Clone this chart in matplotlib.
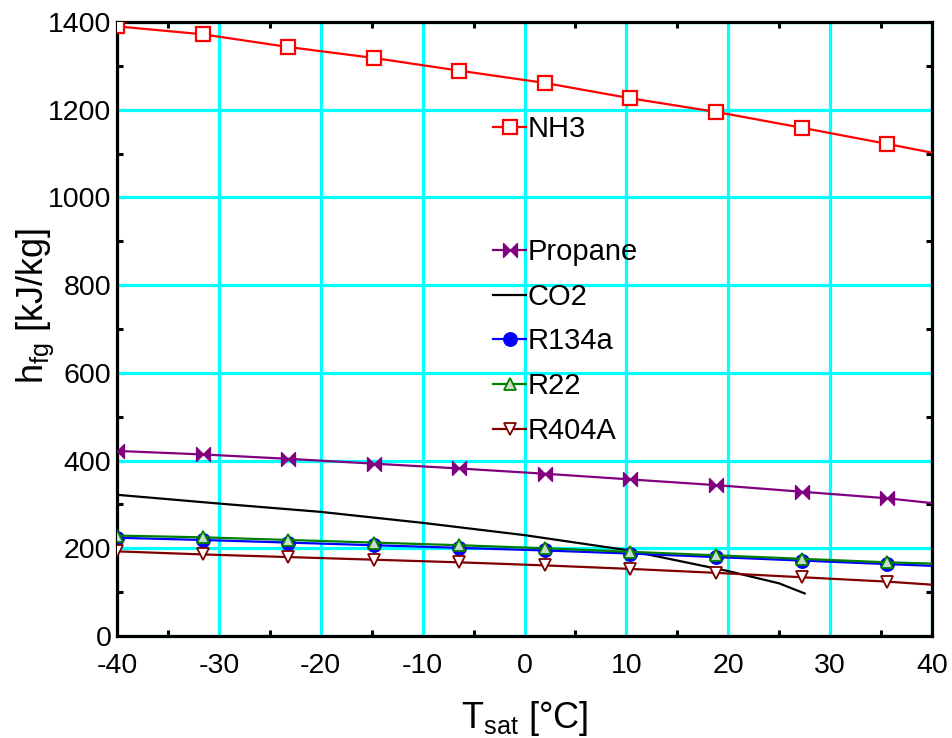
import matplotlib
matplotlib.use("Agg")
import matplotlib.pyplot as plt
from matplotlib.path import Path

plt.rcParams['font.family'] = ['Liberation Sans', 'DejaVu Sans']
plt.rcParams['mathtext.default'] = 'regular'
plt.rcParams['axes.unicode_minus'] = False

# ---- data ----
T_mark = [-40, -31.6, -23.2, -14.8, -6.4, 2.0, 10.4, 18.8, 27.2, 35.6, 40]
nh3 = [1390, 1372, 1343, 1318, 1289, 1261, 1226, 1195, 1159, 1122, 1102]
propane = [422, 414, 404, 393, 382, 370, 357, 344, 329, 314, 303]
r134a = [224, 219, 213, 207, 201, 195, 188, 180, 172, 164, 160]
r22 = [229, 225, 219, 213, 207, 200, 192, 184, 176, 168, 165]
r404a = [193, 186, 180, 174, 168, 161, 153, 144, 134, 124, 117]
co2_T = [-40, -30, -20, -10, 0, 10, 20, 25, 27.5]
co2 = [322, 302, 283, 258, 230, 196, 148, 120, 97]

x_ticks = [-40, -30, -20, -10, 0, 10, 20, 30, 40]
y_ticks = [0, 200, 400, 600, 800, 1000, 1200, 1400]

bowtie = Path([(-1, -1), (0, 0), (-1, 1), (-1, -1), (1, 1), (0, 0), (1, -1), (1, 1)],
              [Path.MOVETO, Path.LINETO, Path.LINETO, Path.CLOSEPOLY,
               Path.MOVETO, Path.LINETO, Path.LINETO, Path.CLOSEPOLY])

fig = plt.figure(figsize=(9.53, 7.38), dpi=100)
ax = fig.add_axes([0.1228, 0.1382, 0.8552, 0.832])

mev = slice(0, 10)
l_nh3, = ax.plot(T_mark, nh3, color='#ff0000', lw=1.6, marker='s', ms=9.5, mew=1.6,
                 mfc='white', mec='#ff0000', markevery=mev, label='NH3', zorder=3)
l_pro, = ax.plot(T_mark, propane, color='#800080', lw=1.6, marker=bowtie, ms=10,
                 mew=1.0, mfc='#800080', mec='#800080', markevery=mev, label='Propane', zorder=3)
l_co2, = ax.plot(co2_T, co2, color='black', lw=1.6, label='CO2', zorder=3)
l_134, = ax.plot(T_mark, r134a, color='#0000ff', lw=1.6, marker='o', ms=9.5, mew=1.2,
                 mfc='#0000ff', mec='#0000ff', markevery=mev, label='R134a', zorder=3)
l_r22, = ax.plot(T_mark, r22, color='#008000', lw=1.6, marker='^', ms=8, mew=1.3,
                 mfc='#c8dcc8', mec='#008000', markevery=mev, label='R22', zorder=3)
l_404, = ax.plot(T_mark, r404a, color='#800000', lw=1.6, marker='v', ms=8, mew=1.3,
                 mfc='white', mec='#800000', markevery=mev, label='R404A', zorder=3)

ax.set_xlim(-40, 40)
ax.set_ylim(0, 1400)
ax.set_xticks(x_ticks)
ax.set_yticks(y_ticks)
ax.set_xticks([v + 5 for v in x_ticks[:-1]], minor=True)
ax.set_yticks([v + 100 for v in y_ticks[:-1]], minor=True)

ax.grid(True, which='major', color='#00ffff', lw=2.3)
ax.set_axisbelow(True)
ax.tick_params(which='major', length=0, labelsize=20.5, pad=4)
ax.tick_params(axis='x', which='major', pad=12)
ax.tick_params(which='minor', direction='in', length=4, width=2.2,
               top=True, right=True, color='black')
for s in ax.spines.values():
    s.set_linewidth(2.3)
    s.set_color('black')

ax.set_xlabel('T$_{sat}$ [°C]', fontsize=26)
ax.set_ylabel('h$_{fg}$ [kJ/kg]', fontsize=26)
ax.xaxis.set_label_coords(0.5, -0.102)
ax.yaxis.set_label_coords(-0.075, 0.537)

leg1 = ax.legend(handles=[l_nh3], loc='center left', bbox_to_anchor=(0.461, 0.826),
                 frameon=False, fontsize=21, handlelength=1.15, handletextpad=0.05,
                 borderpad=0, borderaxespad=0)
ax.add_artist(leg1)
ax.legend(handles=[l_pro, l_co2, l_134, l_r22, l_404], loc='center left',
          bbox_to_anchor=(0.461, 0.4797), frameon=False, fontsize=21,
          handlelength=1.15, handletextpad=0.05, labelspacing=0.57,
          borderpad=0, borderaxespad=0)

fig.savefig('out.png', dpi=100)
